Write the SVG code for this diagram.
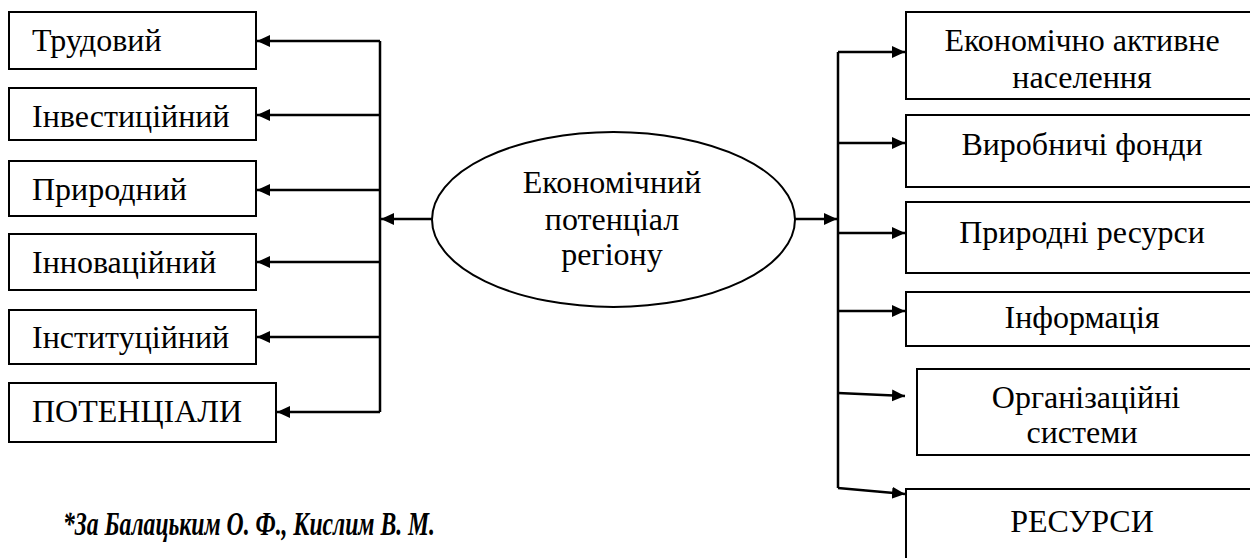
<svg xmlns="http://www.w3.org/2000/svg" width="1250" height="558" viewBox="0 0 1250 558">
<style>
.box{fill:#fff;stroke:#000;stroke-width:2}
.t{font-family:'Liberation Serif','Times New Roman',Times,'DejaVu Serif','Noto Serif',serif;font-size:32px;fill:#000}
.c{text-anchor:middle}
.ln{fill:none;stroke:#000;stroke-width:2.5}
.ar{fill:none;stroke:#000;stroke-width:2.5;marker-end:url(#ah)}
.note{font-family:'Liberation Serif','Times New Roman',Times,'DejaVu Serif','Noto Serif',serif;font-size:33px;font-weight:bold;font-style:italic;fill:#000}
</style>
<defs>
<marker id="ah" markerUnits="userSpaceOnUse" markerWidth="14" markerHeight="14" refX="13" refY="7" orient="auto">
<path d="M0,1 L13,7 L0,13 Z" fill="#000"/>
</marker>
</defs>
<rect width="1250" height="558" fill="#fff"/>
<g id="connectors">
<line class="ln" x1="380" y1="41" x2="380" y2="412"/>
<line class="ar" x1="380" y1="41" x2="257" y2="41"/>
<line class="ar" x1="380" y1="115" x2="257" y2="115"/>
<line class="ar" x1="380" y1="190" x2="257" y2="190"/>
<line class="ar" x1="380" y1="262" x2="257" y2="262"/>
<line class="ar" x1="380" y1="337" x2="257" y2="337"/>
<line class="ar" x1="380" y1="412" x2="277" y2="412"/>
<line class="ar" x1="432" y1="219" x2="381" y2="219"/>
<line class="ar" x1="795" y1="219" x2="837" y2="219"/>
<line class="ln" x1="838" y1="52" x2="838" y2="488"/>
<line class="ar" x1="838" y1="52" x2="905" y2="52"/>
<line class="ar" x1="838" y1="143" x2="905" y2="143"/>
<line class="ar" x1="838" y1="233" x2="905" y2="233"/>
<line class="ar" x1="838" y1="311" x2="905" y2="311"/>
<line class="ar" x1="838" y1="393" x2="905" y2="396"/>
<line class="ar" x1="838" y1="488" x2="905" y2="494"/>
</g>
<g id="n-trudovyi"><rect class="box" x="9" y="12" width="247" height="57"/><text class="t" x="32" y="51" font-family="Liberation Serif, serif">Трудовий</text></g>
<g id="n-investytsiinyi"><rect class="box" x="9" y="88" width="247" height="52"/><text class="t" x="32" y="127">Інвестиційний</text></g>
<g id="n-pryrodnyi"><rect class="box" x="9" y="161" width="247" height="55"/><text class="t" x="32" y="200">Природний</text></g>
<g id="n-innovatsiinyi"><rect class="box" x="9" y="234" width="247" height="56"/><text class="t" x="32" y="273">Інноваційний</text></g>
<g id="n-instytutsiinyi"><rect class="box" x="9" y="310" width="247" height="54"/><text class="t" x="32" y="348">Інституційний</text></g>
<g id="n-potentsialy"><rect class="box" x="9" y="383" width="267" height="59"/><text class="t" x="32" y="422">ПОТЕНЦІАЛИ</text></g>
<g id="n-center"><ellipse class="box" cx="613.5" cy="219.5" rx="181.5" ry="87.5"/>
<text class="t c" x="612" y="193">Економічний</text>
<text class="t c" x="612" y="230">потенціал</text>
<text class="t c" x="612" y="265">регіону</text></g>
<g id="n-naselennia"><rect class="box" x="906" y="12" width="360" height="87"/><text class="t c" x="1082" y="51">Економічно активне</text><text class="t c" x="1082" y="88">населення</text></g>
<g id="n-fondy"><rect class="box" x="906" y="115" width="360" height="72"/><text class="t c" x="1082" y="155">Виробничі фонди</text></g>
<g id="n-resursy-pryr"><rect class="box" x="906" y="202" width="360" height="71"/><text class="t c" x="1082" y="243">Природні ресурси</text></g>
<g id="n-informatsiia"><rect class="box" x="906" y="292" width="360" height="54"/><text class="t c" x="1082" y="328">Інформація</text></g>
<g id="n-org"><rect class="box" x="917" y="369" width="360" height="86"/><text class="t c" x="1086" y="408">Організаційні</text><text class="t c" x="1082" y="443">системи</text></g>
<g id="n-resursy"><rect class="box" x="906" y="489" width="360" height="90"/><text class="t c" x="1082" y="532">РЕСУРСИ</text></g>
<text class="note" x="63" y="535" textLength="372" lengthAdjust="spacingAndGlyphs">*За Балацьким О. Ф., Кислим В. М.</text>
</svg>
